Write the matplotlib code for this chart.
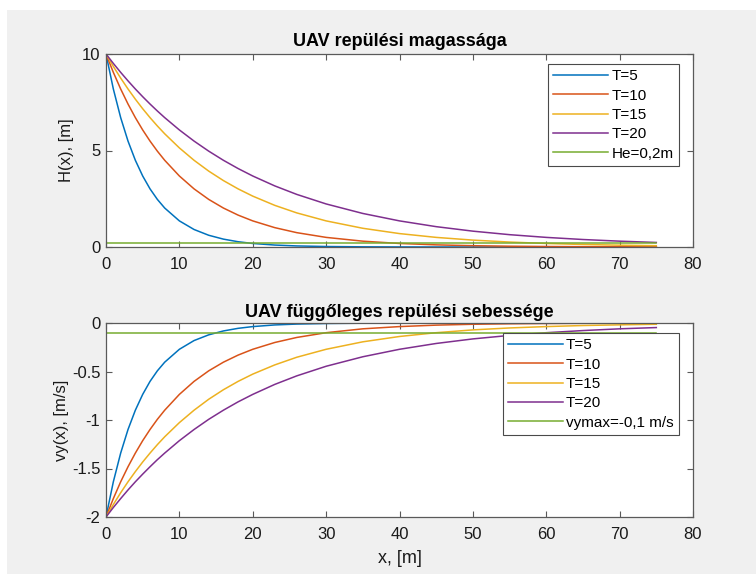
import matplotlib
matplotlib.use("Agg")
import matplotlib.pyplot as plt
from matplotlib.patches import Rectangle

plt.rcParams['font.family'] = ['Liberation Sans', 'DejaVu Sans']

x = [0, 1, 2, 3, 4, 5, 6, 7, 8, 10, 12, 14, 16, 18, 20, 23, 26, 30, 35, 40,
     45, 50, 55, 60, 65, 70, 75]

H_T5 = [10.0, 8.187, 6.703, 5.488, 4.493, 3.679, 3.012, 2.466, 2.019, 1.353,
        0.907, 0.608, 0.408, 0.273, 0.183, 0.101, 0.055, 0.025, 0.009, 0.003,
        0.001, 0.0, 0.0, 0.0, 0.0, 0.0, 0.0]
H_T10 = [10.0, 9.048, 8.187, 7.408, 6.703, 6.065, 5.488, 4.966, 4.493, 3.679,
         3.012, 2.466, 2.019, 1.653, 1.353, 1.003, 0.743, 0.498, 0.302, 0.183,
         0.111, 0.067, 0.041, 0.025, 0.015, 0.009, 0.006]
H_T15 = [10.0, 9.355, 8.752, 8.187, 7.659, 7.165, 6.703, 6.271, 5.866, 5.134,
         4.493, 3.932, 3.442, 3.012, 2.636, 2.158, 1.767, 1.353, 0.970, 0.695,
         0.498, 0.357, 0.256, 0.183, 0.131, 0.094, 0.067]
H_T20 = [10.0, 9.512, 9.048, 8.607, 8.187, 7.788, 7.408, 7.047, 6.703, 6.065,
         5.488, 4.966, 4.493, 4.066, 3.679, 3.166, 2.725, 2.231, 1.738, 1.353,
         1.054, 0.821, 0.639, 0.498, 0.388, 0.302, 0.235]

vy_T5 = [-2.0, -1.637, -1.341, -1.098, -0.899, -0.736, -0.602, -0.493, -0.404,
         -0.271, -0.181, -0.122, -0.082, -0.055, -0.037, -0.020, -0.011, -0.005,
         -0.002, -0.001, 0.0, 0.0, 0.0, 0.0, 0.0, 0.0, 0.0]
vy_T10 = [-2.0, -1.810, -1.637, -1.482, -1.341, -1.213, -1.098, -0.993, -0.899,
          -0.736, -0.602, -0.493, -0.404, -0.331, -0.271, -0.201, -0.149, -0.100,
          -0.060, -0.037, -0.022, -0.013, -0.008, -0.005, -0.003, -0.002, -0.001]
vy_T15 = [-2.0, -1.871, -1.750, -1.637, -1.532, -1.433, -1.341, -1.254, -1.173,
          -1.027, -0.899, -0.786, -0.688, -0.602, -0.527, -0.432, -0.353, -0.271,
          -0.194, -0.139, -0.100, -0.071, -0.051, -0.037, -0.026, -0.019, -0.013]
vy_T20 = [-2.0, -1.902, -1.810, -1.721, -1.637, -1.558, -1.482, -1.409, -1.341,
          -1.213, -1.098, -0.993, -0.899, -0.813, -0.736, -0.633, -0.545, -0.446,
          -0.348, -0.271, -0.211, -0.164, -0.128, -0.100, -0.078, -0.060, -0.047]

He_x = [0, 75]
He = [0.2, 0.2]
vymax = [-0.1, -0.1]

labels_T = ['T=5', 'T=10', 'T=15', 'T=20']
colors = ['#0072BD', '#D95319', '#EDB120', '#7E2F8E', '#77AC30']

W, Hpx = 756, 574
fig = plt.figure(figsize=(W / 100, Hpx / 100), dpi=100, facecolor='white')
fig.patches.append(Rectangle((7 / W, 0), 1 - 7 / W, 1 - 10 / Hpx,
                             transform=fig.transFigure, facecolor='#f0f0f0',
                             edgecolor='none', zorder=-10))

left = 106 / W
width = 587 / W
ax1 = fig.add_axes([left, 1 - 247 / Hpx, width, 193 / Hpx])
ax2 = fig.add_axes([left, 1 - 517 / Hpx, width, 194 / Hpx])

FS = 12
TFS = 13
LFS = 11
TXT = '#1a1a1a'


def style(ax):
    ax.set_facecolor('white')
    for s in ax.spines.values():
        s.set_color('#5a5a5a')
        s.set_linewidth(0.9)
    ax.tick_params(direction='in', top=True, right=True, length=4.5,
                   width=0.8, color='#5a5a5a', labelsize=FS, labelcolor=TXT)
    ax.tick_params(axis='x', pad=7)
    ax.tick_params(axis='y', pad=4)
    ax.set_xlim(0, 80)
    ax.set_xticks(range(0, 81, 10))


def legend(ax, h):
    lg = ax.legend(loc='upper right', bbox_to_anchor=(1 - 14 / 587, 1 - 10 / h),
                   fontsize=LFS, handlelength=3.6, handletextpad=0.2,
                   labelspacing=0.35, borderpad=0.35, borderaxespad=0,
                   fancybox=False, framealpha=1, edgecolor='#4a4a4a')
    lg.get_frame().set_linewidth(0.8)
    return lg


for yv, c, lab in zip([H_T5, H_T10, H_T15, H_T20], colors, labels_T):
    ax1.plot(x, yv, color=c, lw=1.1, label=lab)
ax1.plot(He_x, He, color=colors[4], lw=1.1, label='He=0,2m')
style(ax1)
ax1.set_ylim(0, 10)
ax1.set_yticks([0, 5, 10])
ax1.set_ylabel('H(x), [m]', fontsize=FS, color=TXT, labelpad=6)
ax1.set_title('UAV repülési magassága', fontsize=TFS, fontweight='bold', pad=6)
legend(ax1, 193)

for yv, c, lab in zip([vy_T5, vy_T10, vy_T15, vy_T20], colors, labels_T):
    ax2.plot(x, yv, color=c, lw=1.1, label=lab)
ax2.plot(He_x, vymax, color=colors[4], lw=1.1, label='vymax=-0,1 m/s')
style(ax2)
ax2.set_ylim(-2, 0)
ax2.set_yticks([-2, -1.5, -1, -0.5, 0])
ax2.set_yticklabels(['-2', '-1.5', '-1', '-0.5', '0'])
ax2.set_ylabel('vy(x), [m/s]', fontsize=FS, color=TXT, labelpad=2)
ax2.set_xlabel('x, [m]', fontsize=13, color=TXT, labelpad=6)
ax2.set_title('UAV függőleges repülési sebessége', fontsize=TFS, fontweight='bold', pad=4)
legend(ax2, 194)

fig.savefig('out.png', dpi=100, facecolor=fig.get_facecolor())
